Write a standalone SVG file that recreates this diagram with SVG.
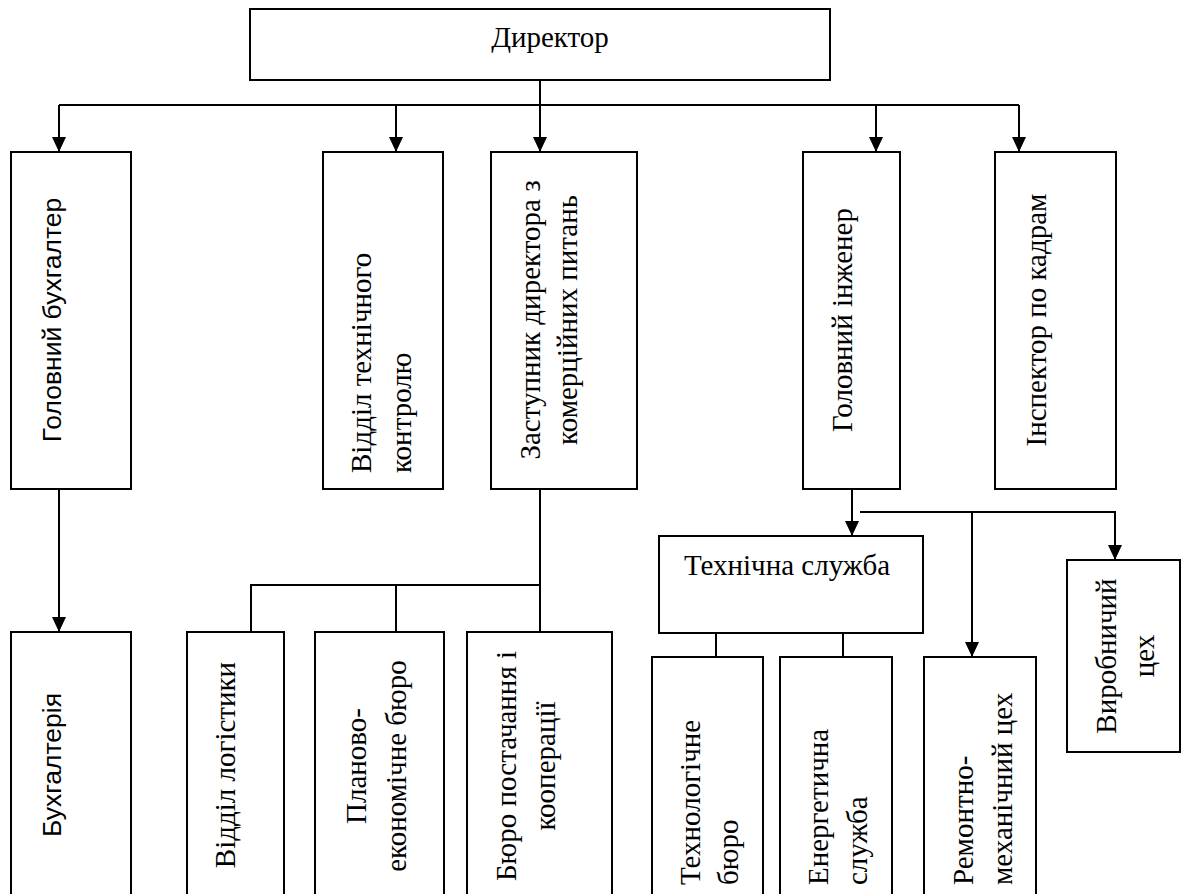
<svg xmlns="http://www.w3.org/2000/svg" width="1184" height="894" viewBox="0 0 1184 894">
<style>
.box{fill:#fff;stroke:#000;stroke-width:2}
.ln{stroke:#000;stroke-width:2;fill:none}
.arr{marker-end:url(#ah)}
.serif{font-family:"Liberation Serif","Times New Roman",serif;font-size:29px;fill:#000}
.sans{font-family:"Liberation Sans",Arial,sans-serif;font-size:26.5px;fill:#000}
.mid{text-anchor:middle}
</style>
<defs>
<marker id="ah" viewBox="0 0 15 14" refX="15" refY="7" markerWidth="15" markerHeight="14" markerUnits="userSpaceOnUse" orient="auto">
<path d="M0,0 L15,7 L0,14 z" fill="#000"/>
</marker>
</defs>
<rect width="1184" height="894" fill="#fff"/>
<g id="connectors">
<path class="ln arr" d="M540,80 V152"/>
<path class="ln" d="M59,105 H1019"/>
<path class="ln arr" d="M59,105 V152"/>
<path class="ln arr" d="M396,105 V152"/>
<path class="ln arr" d="M876,105 V152"/>
<path class="ln arr" d="M1019,105 V152"/>
<path class="ln arr" d="M59,489 V632"/>
<path class="ln" d="M540,489 V632"/>
<path class="ln" d="M251,632 V585 H540"/>
<path class="ln" d="M396,585 V632"/>
<path class="ln arr" d="M852,489 V536"/>
<path class="ln arr" d="M860,512 H1115 V560"/>
<path class="ln arr" d="M972,512 V657"/>
<path class="ln" d="M716,633 V657"/>
<path class="ln" d="M843,633 V657"/>
</g>
<g id="director">
<rect class="box" x="250" y="9" width="580" height="71"/>
<text class="serif mid" x="550" y="47">Директор</text>
</g>
<g id="chief-accountant">
<rect class="box" x="11" y="152" width="120" height="337"/>
<text class="sans mid" transform="translate(61,320) rotate(-90)">Головний бухгалтер</text>
</g>
<g id="quality-control">
<rect class="box" x="323" y="152" width="120" height="337"/>
<text class="serif" transform="translate(371,473) rotate(-90)">Відділ технічного</text>
<text class="serif" transform="translate(411,473) rotate(-90)">контролю</text>
</g>
<g id="deputy-director">
<rect class="box" x="491" y="152" width="146" height="337"/>
<text class="serif mid" transform="translate(540,320) rotate(-90)">Заступник директора з</text>
<text class="serif mid" transform="translate(577,320) rotate(-90)">комерційних питань</text>
</g>
<g id="chief-engineer">
<rect class="box" x="803" y="152" width="97" height="337"/>
<text class="serif mid" transform="translate(852,320) rotate(-90)">Головний інженер</text>
</g>
<g id="hr-inspector">
<rect class="box" x="995" y="152" width="121" height="337"/>
<text class="serif mid" transform="translate(1046,320) rotate(-90)">Інспектор по кадрам</text>
</g>
<g id="accounting">
<rect class="box" x="11" y="632" width="120" height="270"/>
<text class="sans mid" transform="translate(61,765) rotate(-90)">Бухгалтерія</text>
</g>
<g id="logistics">
<rect class="box" x="187" y="632" width="97" height="270"/>
<text class="serif mid" transform="translate(235,765) rotate(-90)">Відділ логістики</text>
</g>
<g id="planning">
<rect class="box" x="315" y="632" width="129" height="270"/>
<text class="serif mid" transform="translate(366,766) rotate(-90)">Планово-</text>
<text class="serif mid" transform="translate(406,766) rotate(-90)">економічне бюро</text>
</g>
<g id="supply">
<rect class="box" x="467" y="632" width="145" height="270"/>
<text class="serif mid" transform="translate(516,766) rotate(-90)">Бюро постачання і</text>
<text class="serif mid" transform="translate(555,766) rotate(-90)">кооперації</text>
</g>
<g id="tech-service">
<rect class="box" x="659" y="536" width="264" height="97"/>
<text class="serif mid" x="787" y="575">Технічна служба</text>
</g>
<g id="tech-bureau">
<rect class="box" x="652" y="657" width="111" height="250"/>
<text class="serif" transform="translate(700,885) rotate(-90)">Технологічне</text>
<text class="serif" transform="translate(738,885) rotate(-90)">бюро</text>
</g>
<g id="energy">
<rect class="box" x="780" y="657" width="112" height="250"/>
<text class="serif" transform="translate(828,885) rotate(-90)">Енергетична</text>
<text class="serif" transform="translate(867,885) rotate(-90)">служба</text>
</g>
<g id="repair-shop">
<rect class="box" x="924" y="657" width="112" height="250"/>
<text class="serif" transform="translate(973,885) rotate(-90)">Ремонтно-</text>
<text class="serif" transform="translate(1012,885) rotate(-90)">механічний цех</text>
</g>
<g id="production-shop">
<rect class="box" x="1067" y="560" width="113" height="192"/>
<text class="serif mid" transform="translate(1116,656) rotate(-90)">Виробничий</text>
<text class="serif mid" transform="translate(1154,656) rotate(-90)">цех</text>
</g>
</svg>
